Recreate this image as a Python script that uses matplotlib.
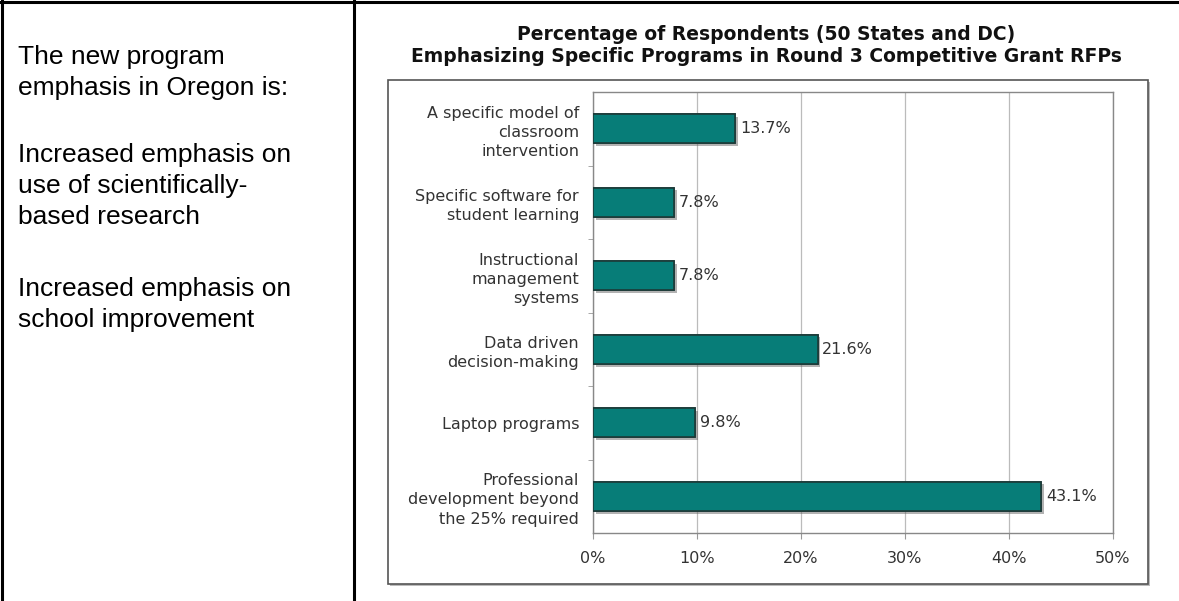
import matplotlib.pyplot as plt
import matplotlib.patheffects as pe
from matplotlib.patches import Rectangle
from matplotlib.lines import Line2D
import numpy as np

plt.rcParams['font.family'] = ['Liberation Sans', 'DejaVu Sans']

# chart data
categories = [
    'A specific model of\nclassroom\nintervention',
    'Specific software for\nstudent learning',
    'Instructional\nmanagement\nsystems',
    'Data driven\ndecision-making',
    'Laptop programs',
    'Professional\ndevelopment beyond\nthe 25% required',
]
values = [13.7, 7.8, 7.8, 21.6, 9.8, 43.1]
x_ticks = [0, 10, 20, 30, 40, 50]
x_tick_labels = ['0%', '10%', '20%', '30%', '40%', '50%']

title = ('Percentage of Respondents (50 States and DC)\n'
         'Emphasizing Specific Programs in Round 3 Competitive Grant RFPs')

side_lines = [
    'The new program', 'emphasis in Oregon is:',
    'Increased emphasis on', 'use of scientifically-', 'based research',
    'Increased emphasis on', 'school improvement',
]
# baseline of each line in the left cell, pixels from the top
side_baselines = [64, 95, 162, 193, 224, 296, 327]

W, H = 1179, 601
fig = plt.figure(figsize=(W / 100, H / 100), dpi=100)
fig.patch.set_facecolor('white')


def fx(px):
    return px / W


def fy(py):
    return 1 - py / H


# table borders
for (x0, y0, x1, y1) in [(0, 2, W, 2), (2, 0, 2, H), (354, 0, 354, H)]:
    fig.add_artist(Line2D([fx(x0), fx(x1)], [fy(y0), fy(y1)], color='black',
                          lw=2.2, transform=fig.transFigure))

for line, base in zip(side_lines, side_baselines):
    fig.text(fx(18), fy(base), line, ha='left', va='baseline', fontsize=19,
             color='black')

# the chart is a wide bitmap, so use the wider DejaVu face for its text
chart_font = 'DejaVu Sans'

# outer frame of the chart with a shadow
fig.add_artist(Rectangle((fx(390), fy(586)), fx(1150) - fx(390), fy(82) - fy(586),
                         transform=fig.transFigure, fc='#bbbbbb', ec='none', zorder=0))
fig.add_artist(Rectangle((fx(388), fy(584)), fx(1148) - fx(388), fy(80) - fy(584),
                         transform=fig.transFigure, fc='white', ec='#555555', lw=1.2, zorder=0.5))

fig.text(fx(766), fy(25), title, ha='center', va='top', fontsize=13.5,
         fontweight='bold', linespacing=1.2, color='#111111', family=chart_font)

ax = fig.add_axes([fx(593), fy(533), fx(1113) - fx(593), fy(92) - fy(533)])
ax.set_zorder(2)
ax.patch.set_facecolor('white')

y = np.arange(len(categories))
bars = ax.barh(y, values, height=0.4, color='#077d78', edgecolor='#1c3a38',
               linewidth=1.2, zorder=3)
for b in bars:
    b.set_path_effects([pe.withSimplePatchShadow(offset=(2, -2), shadow_rgbFace='#666666',
                                                 alpha=0.5), pe.Normal()])

for yi, v in zip(y, values):
    ax.text(v + 0.45, yi, f'{v}%', ha='left', va='center', fontsize=11.5,
            color='#333333', family=chart_font)

ax.set_xlim(0, 50)
ax.set_ylim(len(categories) - 0.5, -0.5)
ax.set_xticks(x_ticks)
ax.set_xticklabels(x_tick_labels, fontsize=11.5, color='#333333', family=chart_font)
ax.set_yticks(y)
ax.set_yticklabels(categories, fontsize=11.5, color='#333333', linespacing=1.35,
                   family=chart_font)
ax.set_yticks(np.arange(0.5, len(categories) - 0.5, 1), minor=True)
ax.tick_params(axis='y', which='major', length=0, pad=10)
ax.tick_params(axis='y', which='minor', length=3.5, color='#999999', direction='out')
ax.tick_params(axis='x', length=4, color='#999999', pad=9)
ax.grid(axis='x', color='#bbbbbb', lw=0.9, zorder=0)
ax.set_axisbelow(True)
for s in ax.spines.values():
    s.set_color('#888888')
    s.set_linewidth(1.0)

fig.savefig('out.png', dpi=100)
